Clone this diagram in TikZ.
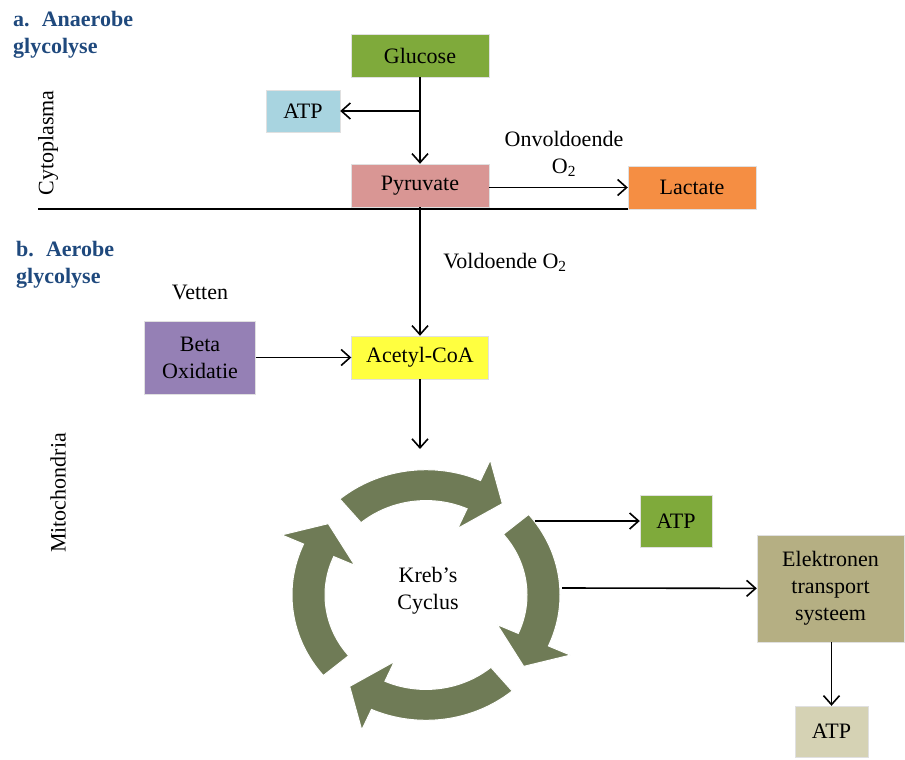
\documentclass[tikz,border=0pt]{standalone}
\usepackage{fontspec}
\setmainfont{Liberation Serif}
\usetikzlibrary{arrows.meta}

\definecolor{titleblue}{RGB}{31,73,125}
\definecolor{glucosegreen}{RGB}{127,170,59}
\definecolor{atpblue}{RGB}{168,212,224}
\definecolor{pyrupink}{RGB}{217,150,148}
\definecolor{lactorange}{RGB}{245,142,67}
\definecolor{acetylyellow}{RGB}{255,255,64}
\definecolor{betapurple}{RGB}{149,128,181}
\definecolor{krebsolive}{RGB}{111,123,86}
\definecolor{etsbrown}{RGB}{181,175,131}
\definecolor{atpbeige}{RGB}{213,210,180}

\begin{document}
\begin{tikzpicture}
[x=1pt,y=-1pt,
box/.style={rectangle,draw=black!12,thin,inner sep=0pt,text centered,align=center,font=\fontsize{22}{27}\selectfont},
txt/.style={draw=none,inner sep=1pt,align=center,font=\fontsize{22}{27}\selectfont},
heading/.style={draw=none,inner sep=0pt,align=left,anchor=west,text=titleblue,font=\fontsize{22}{27}\selectfont\bfseries},
classical/.style={line width=1.6pt,-{Straight Barb[length=9pt,width=16pt]}},
cyclearrow/.style={fill=krebsolive,draw=white,line width=1pt,line join=miter}]
\useasboundingbox (0,0) rectangle (905,760);

% headings and regions
\node[heading] (ana) at (13,35) {a.\hspace{0.55em}Anaerobe\\glycolyse};
\node[heading] (aer) at (16,265) {b.\hspace{0.55em}Aerobe\\glycolyse};
\node[txt,rotate=90] (cyto) at (48,143) {Cytoplasma};
\node[txt,rotate=90] (mito) at (58,493) {Mitochondria};
\draw[line width=1.2pt] (38,209) -- (757,209);

% first row
\node[box,fill=glucosegreen,minimum width=138,minimum height=43] (glucose) at (420,55.5) {Glucose};
\node[box,fill=atpblue,minimum width=74,minimum height=42] (atp1) at (303,111) {ATP};
\node[box,fill=pyrupink,minimum width=138,minimum height=43] (pyruvate) at (420,185.5) {Pyruvate};
\node[box,fill=lactorange,minimum width=128,minimum height=43] (lactate) at (692,187.5) {Lactate};
\node[txt] (onvol) at (564,154) {Onvoldoende\\O\textsubscript{2}};
\coordinate (branch) at (420,111);

\draw[line width=1.6pt] (glucose) -- (branch);
\draw[classical] (branch) -- (pyruvate);
\draw[classical] (branch) -- (atp1);
\draw[classical] (pyruvate.east |- lactate) -- (lactate);

% second row
\node[txt] (vol) at (505,262) {Voldoende O\textsubscript{2}};
\node[txt] (vetten) at (200,292) {Vetten};
\node[box,fill=betapurple,minimum width=111,minimum height=73] (beta) at (200,357.5) {Beta\\Oxidatie};
\node[box,fill=acetylyellow,minimum width=137,minimum height=43] (acetyl) at (420,357.5) {Acetyl-CoA};

\draw[classical] (pyruvate) -- (acetyl);
\draw[classical] (beta) -- (acetyl);

% Kreb's cycle
\begin{scope}[shift={(426,595)},yscale=0.935]
\foreach \a in {130,40,-50,-140}{
  \filldraw[cyclearrow] ({134*cos(\a)},{-134*sin(\a)})
    arc[start angle={-\a},end angle={-\a+64},radius=134]
    -- ({158*cos(\a-64)},{-158*sin(\a-64)})
    -- ({124*cos(\a-78)},{-124*sin(\a-78)})
    -- ({78*cos(\a-64)},{-78*sin(\a-64)})
    -- ({101*cos(\a-64)},{-101*sin(\a-64)})
    arc[start angle={-\a+64},end angle={-\a},radius=101]
    -- cycle;
}
\end{scope}
\node[txt] (krebs) at (428,591) {Kreb’s\\Cyclus};
\coordinate (krebsin) at (420,449);
\coordinate (krebsatp) at (535,521);
\coordinate (krebsets) at (562,588);

\draw[classical] (acetyl) -- (krebsin);

% third row
\node[box,fill=glucosegreen,minimum width=72,minimum height=52] (atp2) at (676,521) {ATP};
\node[box,fill=etsbrown,minimum width=147,minimum height=107] (ets) at (830.5,588.5) {Elektronen\\transport\\systeem};
\node[box,fill=atpbeige,minimum width=73,minimum height=51] (atp3) at (831.5,731.5) {ATP};

\draw[classical] (krebsatp) -- (atp2);
\draw[classical] (krebsets) -- (ets);
\draw[classical] (ets.south -| atp3) -- (atp3);

\end{tikzpicture}
\end{document}
